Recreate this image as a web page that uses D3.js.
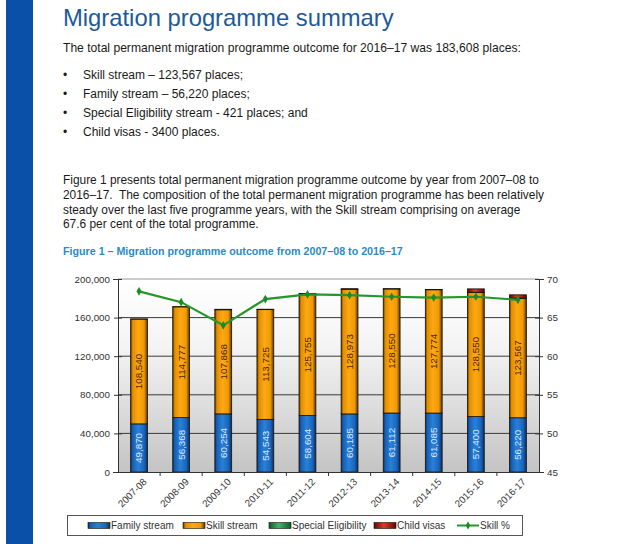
<!DOCTYPE html>
<html>
<head>
<meta charset="utf-8">
<script src="https://cdnjs.cloudflare.com/ajax/libs/d3/7.8.5/d3.min.js"></script>
<style>
  body { margin: 0; background: #fff; }
  svg { display: block; font-family: "Liberation Sans", Arial, sans-serif; }
  .para { white-space: pre; }
</style>
</head>
<body>
<div id="chart"></div>
<script>
(function () {
  var years = ["2007-08", "2008-09", "2009-10", "2010-11", "2011-12", "2012-13", "2013-14", "2014-15", "2015-16", "2016-17"];
  var family = [49870, 56368, 60254, 54543, 58604, 60185, 61112, 61085, 57400, 56220];
  var skill = [108540, 114777, 107868, 113725, 125755, 128973, 128550, 127774, 128550, 123567];
  var special = [220, 175, 501, 417, 639, 842, 338, 238, 308, 421];
  var child = [0, 0, 0, 0, 0, 0, 0, 0, 3512, 3400];
  var skillPct = [68.4, 67.0, 64.0, 67.4, 68.0, 67.9, 67.7, 67.6, 67.7, 67.3];
  var leftTicks = [0, 40000, 80000, 120000, 160000, 200000];
  var rightTicks = [45, 50, 55, 60, 65, 70];

  var bullets = [
    "Skill stream \u2013 123,567 places;",
    "Family stream \u2013 56,220 places;",
    "Special Eligibility stream - 421 places; and",
    "Child visas - 3400 places."
  ];
  var para = [
    "Figure 1 presents total permanent migration programme outcome by year from 2007\u201308 to",
    "2016\u201317.  The composition of the total permanent migration programme has been relatively",
    "steady over the last five programme years, with the Skill stream comprising on average",
    "67.6 per cent of the total programme."
  ];

  var w = 640, h = 544;
  var svg = d3.select("#chart").append("svg").attr("width", w).attr("height", h);
  var defs = svg.append("defs");

  function hgrad(id, stops) {
    var g = defs.append("linearGradient").attr("id", id)
        .attr("x1", "0").attr("x2", "1").attr("y1", "0").attr("y2", "0");
    stops.forEach(function (s) {
      g.append("stop").attr("offset", s[0]).attr("stop-color", s[1]);
    });
  }
  hgrad("gBlue", [[0, "#0b2f66"], [0.12, "#1560b4"], [0.45, "#2a80d8"], [0.8, "#1866bc"], [1, "#0b2f66"]]);
  hgrad("gOrange", [[0, "#5a3300"], [0.12, "#e08e00"], [0.45, "#ffa814"], [0.8, "#f09a00"], [1, "#5a3300"]]);
  hgrad("gGreen", [[0, "#0c5a2a"], [0.45, "#3cb870"], [1, "#0c5a2a"]]);
  hgrad("gRed", [[0, "#5a0a0a"], [0.45, "#e03a2a"], [1, "#5a0a0a"]]);
  var bg = defs.append("linearGradient").attr("id", "gBg")
      .attr("x1", "0").attr("x2", "0").attr("y1", "0").attr("y2", "1");
  bg.append("stop").attr("offset", 0).attr("stop-color", "#ffffff");
  bg.append("stop").attr("offset", 0.35).attr("stop-color", "#f4f4f4");
  bg.append("stop").attr("offset", 1).attr("stop-color", "#c4c4c4");

  // left blue band
  svg.append("rect").attr("x", 6).attr("y", 0).attr("width", 27).attr("height", h).attr("fill", "#0a50a8");

  // heading text
  svg.append("text").attr("x", 63).attr("y", 26).attr("font-size", 23.8)
      .attr("fill", "#1d5a98").text("Migration programme summary");
  svg.append("text").attr("x", 63).attr("y", 52).attr("font-size", 12.1)
      .attr("fill", "#1a1a1a").text("The total permanent migration programme outcome for 2016\u201317 was 183,608 places:");

  svg.selectAll("text.bullet").data(bullets).enter().append("text")
      .attr("class", "bullet").attr("x", 83).attr("y", function (d, i) { return 79 + i * 19; })
      .attr("font-size", 12).attr("fill", "#1a1a1a").text(function (d) { return d; });
  svg.selectAll("text.dot").data(bullets).enter().append("text")
      .attr("class", "dot").attr("x", 63).attr("y", function (d, i) { return 79 + i * 19; })
      .attr("font-size", 12).attr("fill", "#1a1a1a").text("\u2022");

  svg.selectAll("text.para").data(para).enter().append("text")
      .attr("class", "para").attr("x", 63).attr("y", function (d, i) { return 184 + i * 14.8; })
      .attr("font-size", 11.9).attr("fill", "#1a1a1a").text(function (d) { return d; });

  svg.append("text").attr("x", 63).attr("y", 255).attr("font-size", 10.7)
      .attr("font-weight", "bold").attr("fill", "#2b8bc6")
      .text("Figure 1 \u2013 Migration programme outcome from 2007\u201308 to 2016\u201317");

  // chart
  var left = 118, right = 539, top = 279, bottom = 472;
  var x = d3.scaleBand().domain(years).range([left, right]).paddingInner(0.6).paddingOuter(0.3);
  var y = d3.scaleLinear().domain([0, 200000]).range([bottom, top]);
  var y2 = d3.scaleLinear().domain([45, 70]).range([bottom, top]);

  svg.append("rect").attr("x", left).attr("y", top).attr("width", right - left)
      .attr("height", bottom - top).attr("fill", "url(#gBg)");

  svg.append("g").selectAll("line").data(leftTicks.slice(1)).enter().append("line")
      .attr("x1", left).attr("x2", right)
      .attr("y1", function (d) { return y(d); }).attr("y2", function (d) { return y(d); })
      .attr("stroke", function (d) { return d === 200000 ? "#9a9a9a" : "#3a3a3a"; })
      .attr("stroke-width", 1);

  var stack = years.map(function (yr, i) {
    var segs = [], base = 0;
    [[family[i], "url(#gBlue)"], [skill[i], "url(#gOrange)"], [special[i], "url(#gGreen)"], [child[i], "url(#gRed)"]]
      .forEach(function (s) {
        segs.push({ yr: yr, y0: base, y1: base + s[0], fill: s[1] });
        base += s[0];
      });
    return segs;
  });

  var bars = svg.append("g");
  stack.forEach(function (segs) {
    bars.selectAll(null).data(segs.filter(function (s) { return s.y1 > s.y0; })).enter().append("rect")
        .attr("x", function (d) { return x(d.yr); })
        .attr("width", x.bandwidth())
        .attr("y", function (d) { return y(d.y1); })
        .attr("height", function (d) { return y(d.y0) - y(d.y1); })
        .attr("fill", function (d) { return d.fill; })
        .attr("stroke", "#1a1206").attr("stroke-width", 0.8);
  });

  var fmt = d3.format(",");
  function vlabel(vals, bases, color) {
    svg.append("g").selectAll("text").data(vals).enter().append("text")
        .attr("transform", function (d, i) {
          var cx = x(years[i]) + x.bandwidth() / 2;
          var cy = y(bases[i] + d / 2);
          return "translate(" + cx + "," + cy + ") rotate(-90)";
        })
        .attr("text-anchor", "middle").attr("dy", "0.35em")
        .attr("font-size", 9.8).attr("fill", color)
        .text(function (d) { return fmt(d); });
  }
  vlabel(family, years.map(function () { return 0; }), "#dce8ff");
  vlabel(skill, family, "#4a2400");

  // skill % line
  var line = d3.line()
      .x(function (d, i) { return x(years[i]) + x.bandwidth() / 2; })
      .y(function (d) { return y2(d); });
  svg.append("path").datum(skillPct).attr("d", line)
      .attr("fill", "none").attr("stroke", "#24962a").attr("stroke-width", 2.2);
  svg.append("g").selectAll("path").data(skillPct).enter().append("path")
      .attr("d", d3.symbol().type(d3.symbolDiamond).size(22))
      .attr("transform", function (d, i) {
        return "translate(" + (x(years[i]) + x.bandwidth() / 2) + "," + y2(d) + ")";
      })
      .attr("fill", "#1e8a24");

  // axes
  var axL = d3.axisLeft(y).tickValues(leftTicks).tickFormat(d3.format(",")).tickSize(5).tickPadding(3);
  var gL = svg.append("g").attr("transform", "translate(" + left + ",0)").call(axL);
  var axR = d3.axisRight(y2).tickValues(rightTicks).tickSize(5).tickPadding(3);
  var gR = svg.append("g").attr("transform", "translate(" + right + ",0)").call(axR);
  [gL, gR].forEach(function (g) {
    g.select(".domain").attr("stroke", "#333");
    g.selectAll(".tick line").attr("stroke", "#333");
    g.selectAll(".tick text").attr("font-size", 9.8).attr("fill", "#333")
        .attr("font-family", "Liberation Sans, Arial, sans-serif");
  });
  gL.selectAll(".tick line").attr("x2", 4).attr("x1", -4);
  gR.selectAll(".tick line").attr("x1", -4).attr("x2", 4);

  // x axis
  var axX = d3.axisBottom(x).tickSize(0).tickPadding(0);
  var gX = svg.append("g").attr("transform", "translate(0," + bottom + ")").call(axX);
  gX.select(".domain").attr("stroke", "#333");
  var step = x.step();
  gX.selectAll(".sep").data(years.slice(1)).enter().append("line").attr("class", "sep")
      .attr("x1", function (d) { return x(d) + x.bandwidth() / 2 - step / 2; })
      .attr("x2", function (d) { return x(d) + x.bandwidth() / 2 - step / 2; })
      .attr("y1", 0).attr("y2", 4).attr("stroke", "#333");
  gX.selectAll(".tick text")
      .attr("font-size", 9.8).attr("fill", "#333")
      .attr("font-family", "Liberation Sans, Arial, sans-serif")
      .attr("text-anchor", "end")
      .attr("transform", "translate(6,8) rotate(-45)")
      .attr("dy", "0.35em");

  // legend
  svg.append("rect").attr("x", 67.5).attr("y", 515.5).attr("width", 455).attr("height", 20)
      .attr("fill", "#fff").attr("stroke", "#555");
  var legend = [
    { name: "Family stream", fill: "url(#gBlue)", x: 88 },
    { name: "Skill stream", fill: "url(#gOrange)", x: 183 },
    { name: "Special Eligibility", fill: "url(#gGreen)", x: 269 },
    { name: "Child visas", fill: "url(#gRed)", x: 374 },
    { name: "Skill %", fill: null, x: 457 }
  ];
  var lg = svg.append("g").selectAll("g").data(legend).enter().append("g")
      .attr("transform", function (d) { return "translate(" + d.x + ",525.5)"; });
  lg.filter(function (d) { return d.fill; }).append("rect")
      .attr("x", 0).attr("y", -3).attr("width", 22).attr("height", 6)
      .attr("fill", function (d) { return d.fill; })
      .attr("stroke", "#1a1206").attr("stroke-width", 0.6);
  lg.filter(function (d) { return !d.fill; }).append("line")
      .attr("x1", 0).attr("x2", 22).attr("stroke", "#24962a").attr("stroke-width", 2);
  lg.filter(function (d) { return !d.fill; }).append("path")
      .attr("d", d3.symbol().type(d3.symbolDiamond).size(18))
      .attr("transform", "translate(11,0)").attr("fill", "#1e8a24");
  lg.append("text").attr("x", 23).attr("dy", "0.35em").attr("font-size", 10)
      .attr("fill", "#333").text(function (d) { return d.name; });
})();
</script>
</body>
</html>
